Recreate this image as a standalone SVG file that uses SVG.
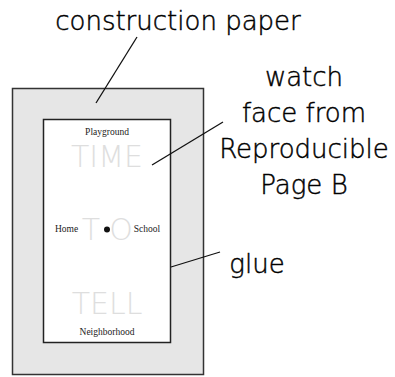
<svg xmlns="http://www.w3.org/2000/svg" width="395" height="377" viewBox="0 0 395 377">
<style>
.lbl{font-family:"DejaVu Sans",sans-serif;font-weight:200;font-size:26px;fill:#000;stroke:#000;stroke-width:0.45;text-anchor:middle}
.sm{font-family:"Liberation Serif",serif;font-size:9.5px;fill:#222;text-anchor:middle}
.big{font-family:"DejaVu Sans",sans-serif;font-weight:200;font-size:30px;fill:#dedede;text-anchor:middle}
.ln{stroke:#111;stroke-width:1.3;fill:none}
</style>
<rect width="395" height="377" fill="#fff"/>
<g id="paper">
<rect x="12.5" y="88.5" width="191" height="286" fill="#e6e6e6" stroke="#333" stroke-width="1.5"/>
</g>
<g id="face">
<rect x="43.5" y="119.5" width="127" height="223" fill="#fff" stroke="#222" stroke-width="1.5"/>
<text class="sm" x="107" y="135">Playground</text>
<text class="big" x="107" y="167">TIME</text>
<text class="sm" x="66.5" y="232">Home</text>
<text class="big" x="91" y="240">T</text>
<circle cx="107" cy="229.5" r="3" fill="#111"/>
<text class="big" x="121" y="240">O</text>
<text class="sm" x="147" y="232">School</text>
<text class="big" x="107" y="314">TELL</text>
<text class="sm" x="107" y="335">Neighborhood</text>
</g>
<g id="connectors">
<line class="ln" x1="137" y1="37" x2="96" y2="103"/>
<line class="ln" x1="152" y1="165" x2="223" y2="122"/>
<line class="ln" x1="171" y1="267" x2="220" y2="252"/>
</g>
<g id="labels">
<text class="lbl" x="178" y="30">construction paper</text>
<text class="lbl" x="304" y="86">watch</text>
<text class="lbl" x="304" y="122">face from</text>
<text class="lbl" x="304" y="158">Reproducible</text>
<text class="lbl" x="304" y="194">Page B</text>
<text class="lbl" x="257" y="273">glue</text>
</g>
</svg>
